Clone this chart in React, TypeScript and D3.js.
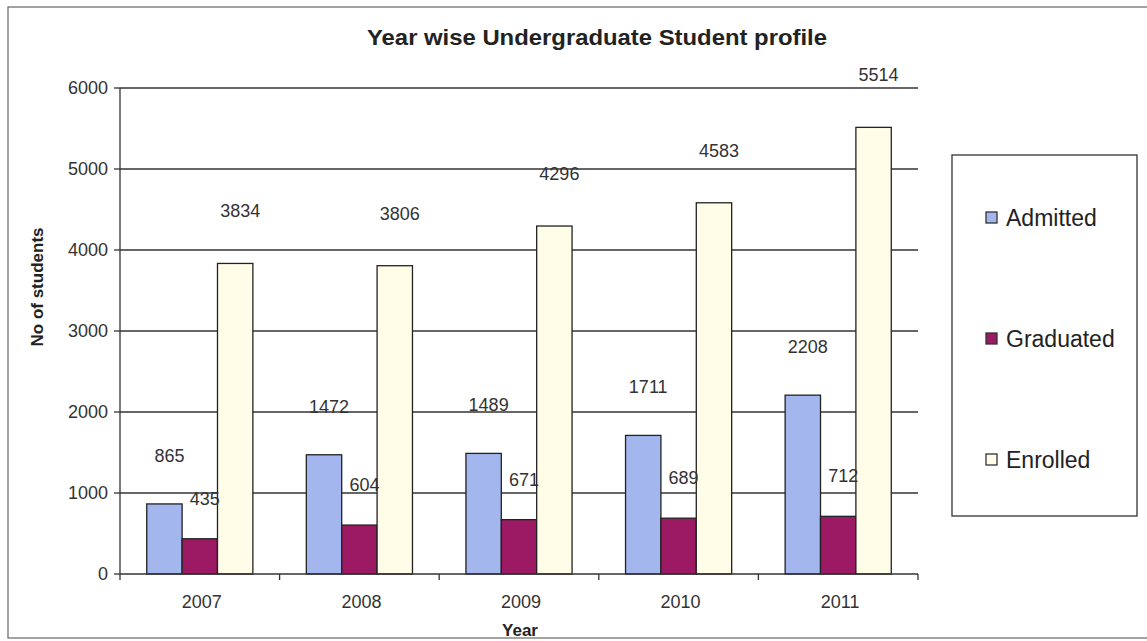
import React from "react";
import * as d3 from "d3";

const years = ["2007", "2008", "2009", "2010", "2011"];
const admitted = [865, 1472, 1489, 1711, 2208];
const graduated = [435, 604, 671, 689, 712];
const enrolled = [3834, 3806, 4296, 4583, 5514];
const seriesNames = ["Admitted", "Graduated", "Enrolled"];
const yTicks = [0, 1000, 2000, 3000, 4000, 5000, 6000];

const colors = ["#a3b7ee", "#9c1a63", "#fffde8"];
const labelOffsets = [48, 40, 52];

export default function App() {
  const W = 1147, H = 641;
  const left = 120, right = 918, top = 88, bottom = 574;
  const x0 = d3.scaleBand<string>().domain(years).range([left, right]).paddingInner(0.335).paddingOuter(0.1675);
  const x1 = d3.scaleBand<string>().domain(seriesNames).range([0, x0.bandwidth()]);
  const y = d3.scaleLinear().domain([0, 6000]).range([bottom, top]);
  const series = [admitted, graduated, enrolled];
  const font = "'Liberation Sans', Arial, sans-serif";
  const edges = years.map((yr) => x0(yr)! - (x0.step() * x0.paddingInner()) / 2);
  edges.push(right);

  return (
    <svg width={W} height={H} style={{ position: "absolute", left: 0, top: 0 }} fontFamily={font}>
      <rect x={0} y={0} width={W} height={H} fill="#fff" />
      <rect x={8} y={7} width={1150} height={631} fill="none" stroke="#666" strokeWidth={1.2} />
      <text x={597} y={45} textAnchor="middle" fontSize={22} fontWeight="bold" fill="#222" textLength={460} lengthAdjust="spacingAndGlyphs">
        Year wise Undergraduate Student profile
      </text>
      {yTicks.map((t) => (
        <g key={t}>
          {t > 0 && <line x1={left} x2={right} y1={y(t)} y2={y(t)} stroke="#333" strokeWidth={1.3} />}
          <line x1={left - 6} x2={left} y1={y(t)} y2={y(t)} stroke="#333" strokeWidth={1.3} />
          <text x={left - 12} y={y(t) + 6} textAnchor="end" fontSize={18} fill="#333">{t}</text>
        </g>
      ))}
      {years.map((yr, i) => (
        <g key={yr}>
          {series.map((s, j) => {
            const bx = x0(yr)! + x1(seriesNames[j])!;
            return (
              <rect key={j} x={bx} y={y(s[i])} width={x1.bandwidth()} height={bottom - y(s[i])} fill={colors[j]} stroke="#222" strokeWidth={1.3} />
            );
          })}
        </g>
      ))}
      {years.map((yr, i) => (
        <g key={"l" + yr}>
          {series.map((s, j) => {
            const bx = x0(yr)! + x1(seriesNames[j])! + x1.bandwidth() / 2;
            return (
              <text key={j} x={bx + 5} y={y(s[i]) - labelOffsets[j] + 6} textAnchor="middle" fontSize={18} fill="#333">{s[i]}</text>
            );
          })}
        </g>
      ))}
      <line x1={left} x2={left} y1={top} y2={bottom} stroke="#333" strokeWidth={1.3} />
      <line x1={left} x2={right} y1={bottom} y2={bottom} stroke="#333" strokeWidth={1.3} />
      {edges.map((e, i) => (
        <line key={i} x1={e} x2={e} y1={bottom} y2={bottom + 6} stroke="#333" strokeWidth={1.3} />
      ))}
      {years.map((yr) => (
        <text key={"t" + yr} x={x0(yr)! + x0.bandwidth() / 2 + 2} y={608} textAnchor="middle" fontSize={18} fill="#333">{yr}</text>
      ))}
      <text x={520} y={636} textAnchor="middle" fontSize={17} fontWeight="bold" fill="#222">Year</text>
      <text transform="translate(43,287) rotate(-90)" textAnchor="middle" fontSize={17} fontWeight="bold" fill="#222">No of students</text>
      <rect x={952} y={155} width={185} height={361} fill="#fff" stroke="#333" strokeWidth={1.3} />
      {seriesNames.map((n, j) => (
        <g key={n} transform={`translate(986,${218 + j * 121})`}>
          <rect x={0} y={-6} width={11} height={11} fill={colors[j]} stroke="#333" strokeWidth={1.3} />
          <text x={20} y={8} fontSize={23} fill="#222">{n}</text>
        </g>
      ))}
    </svg>
  );
}
